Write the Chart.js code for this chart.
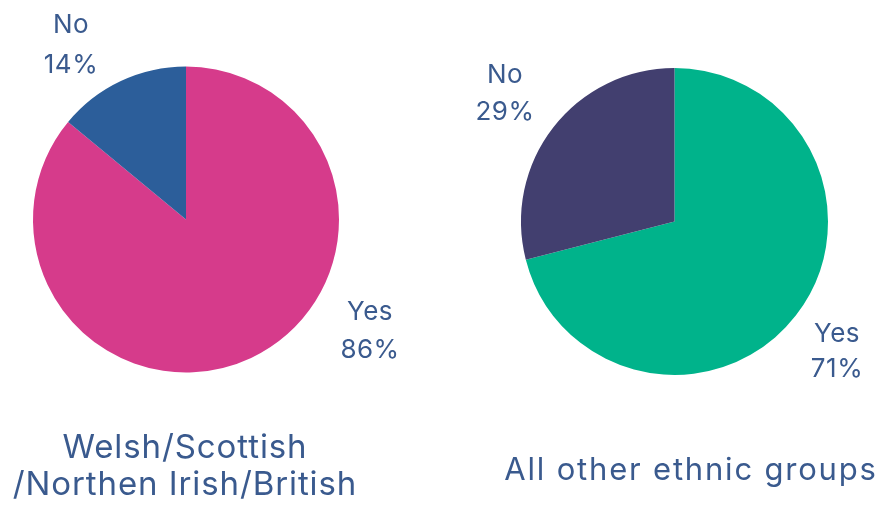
<!DOCTYPE html>
<html>
<head>
<meta charset="utf-8">
<script src="https://cdn.jsdelivr.net/npm/chart.js@4.4.1/dist/chart.umd.min.js"></script>
<style>
  html, body { margin: 0; padding: 0; background: #ffffff; }
  #wrap { position: relative; width: 884px; height: 509px; }
  .half { position: absolute; top: 0; width: 442px; height: 509px; }
</style>
</head>
<body>
<div id="wrap">
  <div class="half" style="left:0"><canvas id="pie_british" width="442" height="509"></canvas></div>
  <div class="half" style="left:442px"><canvas id="pie_other" width="442" height="509"></canvas></div>
</div>
<script>
// answers, clockwise from 12 o'clock
const answers = ['Yes', 'No'];
const britishValues = [86, 14];
const otherValues = [71, 29];
const britishTitle = ['Welsh/Scottish', '/Northen Irish/British'];
const otherTitle = ['All other ethnic groups'];

const TEXT_COLOR = '#3a5a8e';
const FONT = "'Inter', 'Noto Sans', sans-serif";

// writes "Yes / 86%" style labels and the group name under each pie
const pieLabels = {
    id: 'pieLabels',
    afterDraw(chart, args, opts) {
        const ctx = chart.ctx;
        const ds = chart.data.datasets[0];
        ctx.save();
        ctx.fillStyle = TEXT_COLOR;
        ctx.textAlign = 'center';
        ctx.textBaseline = 'alphabetic';
        ctx.font = opts.labelSize + 'px ' + FONT;
        ctx.letterSpacing = opts.labelSpacing + 'px';
        chart.data.labels.forEach(function (lbl, i) {
            const p = opts.labelPos[i];
            ctx.fillText(lbl, p[0], p[1]);
            ctx.fillText(ds.data[i] + '%', p[0], p[2]);
        });
        ctx.font = opts.titleSize + 'px ' + FONT;
        ctx.letterSpacing = opts.titleSpacing + 'px';
        opts.title.forEach(function (line, i) {
            ctx.fillText(line, opts.titleX, opts.titleY + i * opts.titleGap);
        });
        ctx.restore();
    }
};

function makePie(id, values, colors, padding, labelOpts) {
    const ctx = document.getElementById(id).getContext('2d');
    return new Chart(ctx, {
        type: 'pie',
        data: {
            labels: answers,
            datasets: [{
                data: values,
                backgroundColor: colors,
                borderWidth: 0
            }]
        },
        options: {
            responsive: false,
            animation: false,
            layout: { padding: padding },
            plugins: {
                legend: { display: false },
                tooltip: { enabled: false },
                pieLabels: labelOpts
            }
        },
        plugins: [pieLabels]
    });
}

makePie('pie_british', britishValues, ['#d63b8b', '#2c5e9a'],
    { left: 33, right: 103, top: 66.5, bottom: 136.5 },
    {
        labelSize: 26,
        labelSpacing: 0.5,
        labelPos: [[370, 320, 358], [71, 33, 73]],
        title: britishTitle,
        titleSize: 33,
        titleSpacing: 0.9,
        titleX: 185,
        titleY: 458,
        titleGap: 37
    });

makePie('pie_other', otherValues, ['#00b38b', '#423f6f'],
    { left: 79, right: 56, top: 68, bottom: 134 },
    {
        labelSize: 26,
        labelSpacing: 0.5,
        labelPos: [[395, 342, 377], [63, 83, 120]],
        title: otherTitle,
        titleSize: 31,
        titleSpacing: 1.8,
        titleX: 249,
        titleY: 480,
        titleGap: 37
    });
</script>
</body>
</html>
